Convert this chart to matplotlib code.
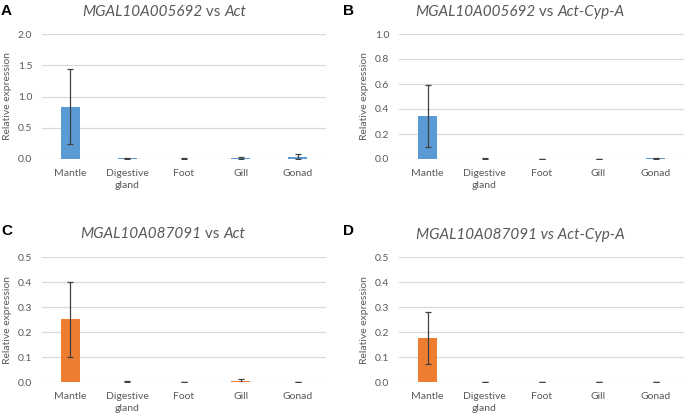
import matplotlib
matplotlib.use("Agg")
import matplotlib.pyplot as plt
import numpy as np

plt.rcParams['font.family'] = ['Lato', 'DejaVu Sans']

categories = ["Mantle", "Digestive\ngland", "Foot", "Gill", "Gonad"]

a_vals = [0.84, 0.012, 0.006, 0.018, 0.04]
a_err = [0.60, 0.010, 0.005, 0.020, 0.045]
b_vals = [0.345, 0.004, 0.002, 0.001, 0.007]
b_err = [0.247, 0.003, 0.002, 0.001, 0.004]
c_vals = [0.252, 0.003, 0.001, 0.005, 0.002]
c_err = [0.149, 0.002, 0.001, 0.008, 0.001]
d_vals = [0.178, 0.001, 0.001, 0.001, 0.0005]
d_err = [0.105, 0.001, 0.001, 0.001, 0.0005]

# title pieces: (text, italic?)
titles = [
    [("MGAL10A005692", True), (" vs ", False), ("Act", True)],
    [("MGAL10A005692", True), (" vs ", False), ("Act-Cyp-A", True)],
    [("MGAL10A087091", True), (" vs ", False), ("Act", True)],
    [("MGAL10A087091 vs Act-Cyp-A", True)],
]
letters = ["A", "B", "C", "D"]
ymaxes = [2.0, 1.0, 0.5, 0.5]
ysteps = [0.5, 0.2, 0.1, 0.1]

BLUE = "#5B9BD5"
ORANGE = "#ED7D31"
TXT = "#595959"
GRID = "#D9D9D9"

W, H = 685, 413
fig = plt.figure(figsize=(W / 100, H / 100), dpi=100)
renderer = fig.canvas.get_renderer()

def ax_rect(l, r, t, b):
    return [l / W, 1 - b / H, (r - l) / W, (b - t) / H]

rects = [ax_rect(42, 326, 34, 159), ax_rect(399, 684, 34, 159),
         ax_rect(42, 326, 257.3, 382.3), ax_rect(399, 684, 257.3, 382.3)]
title_pos = [(164, 12), (520, 12), (163, 234), (520, 235)]
letter_pos = [(1, 11), (343, 11), (1, 231), (343, 231)]
data = [(a_vals, a_err, BLUE), (b_vals, b_err, BLUE),
        (c_vals, c_err, ORANGE), (d_vals, d_err, ORANGE)]

for i in range(4):
    ax = fig.add_axes(rects[i])
    vals, err, col = data[i]
    x = np.arange(len(categories))
    ax.bar(x, vals, width=0.33, color=col, zorder=3)
    ax.errorbar(x, vals, yerr=err, fmt="none", ecolor="#404040",
                elinewidth=0.9, capsize=2, capthick=0.9, zorder=4)
    ax.set_xlim(-0.5, len(categories) - 0.5)
    ax.set_ylim(0, ymaxes[i])
    ticks = np.round(np.arange(0, ymaxes[i] + 1e-9, ysteps[i]), 2)
    ax.set_yticks(ticks)
    ax.set_yticklabels([f"{t:.1f}" for t in ticks])
    ax.set_xticks(x)
    ax.set_xticklabels(categories, linespacing=1.4)
    for s in ax.spines.values():
        s.set_visible(False)
    ax.grid(axis="y", color=GRID, linewidth=0.9, zorder=0)
    ax.tick_params(axis="both", length=0, labelsize=7.5, colors=TXT)
    ax.tick_params(axis="y", pad=7)
    ax.tick_params(axis="x", pad=7)
    ax.set_ylabel("Relative expression", fontsize=7.5, color=TXT, labelpad=4)

    # title built from pieces
    tx, ty = title_pos[i]
    pieces = []
    for txt, it in titles[i]:
        t = fig.text(0, 1 - ty / H, txt, ha="left", va="center",
                     fontsize=11, style="italic" if it else "normal", color=TXT)
        pieces.append(t)
    widths = [p.get_window_extent(renderer).width for p in pieces]
    total = sum(widths)
    cur = tx - total / 2
    for p, w in zip(pieces, widths):
        p.set_x(cur / W)
        cur += w

    lx, ly = letter_pos[i]
    fig.text(lx / W, 1 - ly / H, letters[i], ha="left", va="center",
             fontsize=11, fontweight="bold", color="black",
             family=["Liberation Sans", "DejaVu Sans"])

fig.savefig("out.png", dpi=100)
